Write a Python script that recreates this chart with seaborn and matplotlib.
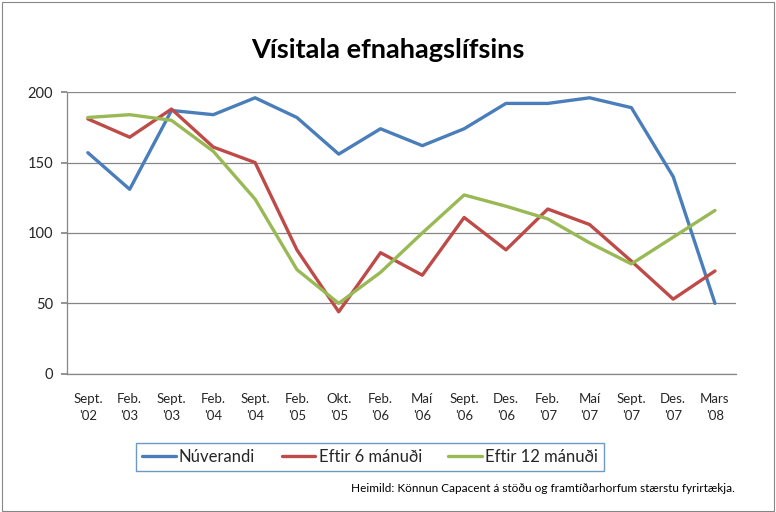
import numpy as np
import pandas as pd
import matplotlib
matplotlib.use("Agg")
import matplotlib.pyplot as plt
import matplotlib.patches as mpatches
import seaborn as sns

# ── Data ──────────────────────────────────────────────────────────────────────
periods = ["Sept.\n'02", "Feb.\n'03", "Sept.\n'03", "Feb.\n'04", "Sept.\n'04",
           "Feb.\n'05", "Okt.\n'05", "Feb.\n'06", "Maí\n'06", "Sept.\n'06",
           "Des.\n'06", "Feb.\n'07", "Maí\n'07", "Sept.\n'07", "Des.\n'07",
           "Mars\n'08"]
nuverandi = [157, 131, 187, 184, 196, 182, 156, 174, 162, 174, 192, 192, 196, 189, 140, 50]
eftir_6   = [181, 168, 188, 161, 150, 88, 44, 86, 70, 111, 88, 117, 106, 80, 53, 73]
eftir_12  = [182, 184, 180, 158, 124, 74, 50, 72, 100, 127, 119, 110, 93, 78, 97, 116]

series_names = ["Núverandi", "Eftir 6 mánuði", "Eftir 12 mánuði"]
colors = ["#4a7ebb", "#be4b48", "#98b954"]

df = pd.DataFrame({
    "pos": list(range(len(periods))) * 3,
    "value": nuverandi + eftir_6 + eftir_12,
    "series": np.repeat(series_names, len(periods)),
})

# ── Figure ────────────────────────────────────────────────────────────────────
sns.set_theme(style="white")
plt.rcParams["font.family"] = ["Lato", "DejaVu Sans"]

fig = plt.figure(figsize=(7.76, 5.12), dpi=100)
fig.patch.set_facecolor("white")
fig.patches.append(mpatches.Rectangle((0.002, 0.002), 0.995, 0.995, transform=fig.transFigure,
                                      fill=False, edgecolor="#868686", linewidth=0.8))

ax = fig.add_axes([0.0863, 0.270, 0.862, 0.550])
sns.lineplot(data=df, x="pos", y="value", hue="series", palette=colors,
             linewidth=2.4, ax=ax, legend=False)

ax.set_xlim(-0.5, len(periods) - 0.5)
ax.set_ylim(0, 200)
ax.set_yticks([0, 50, 100, 150, 200])
ax.yaxis.grid(True, color="#868686", linewidth=0.9)
ax.set_xticks(range(len(periods)))
ax.set_xticklabels(periods, fontsize=9.5, linespacing=1.5)
ax.set_xticks(np.arange(-0.5, len(periods)), minor=True)
ax.tick_params(axis="x", which="major", length=0, pad=14)
ax.tick_params(axis="x", which="minor", length=4, color="#868686", direction="out")
ax.tick_params(axis="y", length=4, color="#868686", direction="out", left=True,
               labelsize=10.5, pad=6)
ax.set_xlabel("")
ax.set_ylabel("")
for s in ["top", "right"]:
    ax.spines[s].set_visible(False)
for s in ["left", "bottom"]:
    ax.spines[s].set_color("#868686")
    ax.spines[s].set_linewidth(0.9)

# ── Title ─────────────────────────────────────────────────────────────────────
fig.text(0.5, 0.903, "Vísitala efnahagslífsins", ha="center", va="center",
         fontsize=19.5, fontweight="bold", color="black")

# ── Legend ────────────────────────────────────────────────────────────────────
handles = [plt.Line2D([], [], color=c, linewidth=2.4) for c in colors]
leg = fig.legend(handles, series_names, loc="center", bbox_to_anchor=(0.477, 0.108),
                 ncol=3, fontsize=12, frameon=True, fancybox=False,
                 handlelength=2.0, handletextpad=0.2, columnspacing=1.6,
                 borderpad=0.35, borderaxespad=0)
leg.get_frame().set_edgecolor("#4a7ebb")
leg.get_frame().set_linewidth(1.0)

# ── Source ────────────────────────────────────────────────────────────────────
fig.text(0.947, 0.045, "Heimild: Könnun Capacent á stöðu og framtíðarhorfum stærstu fyrirtækja.",
         ha="right", va="center", fontsize=8.5, color="black")

fig.savefig("out.png", dpi=100, facecolor="white")
